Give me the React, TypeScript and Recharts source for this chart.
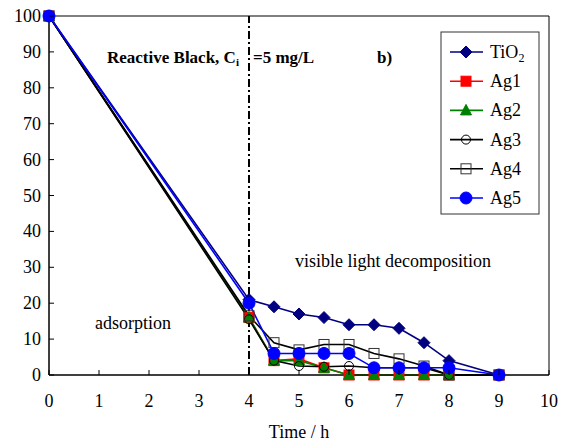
import { LineChart, Line, XAxis, YAxis, ReferenceLine, ReferenceArea } from "recharts";

const times = [0, 4, 4.5, 5, 5.5, 6, 6.5, 7, 7.5, 8, 9];
const tio2 = [100, 21, 19, 17, 16, 14, 14, 13, 9, 4, 0];
const ag1 = [100, 16, 4, 4.5, 2, 0, 0, 0, 0, 0, 0];
const ag2 = [100, 16, 4, 4, 2, 0, 0, 0, 0, 0, 0];
const ag3 = [100, 15.5, 4, 2.5, 2.3, 2.5, 2, 2, 2, 0, 0];
const ag4 = [100, 16.5, 9, 7, 8.5, 8.5, 6, 4.5, 2.5, 0, 0];
const ag5 = [100, 20, 6, 6, 6, 6, 2, 2, 2, 2, 0];

const xTicks = [0, 1, 2, 3, 4, 5, 6, 7, 8, 9, 10];
const yTicks = [0, 10, 20, 30, 40, 50, 60, 70, 80, 90, 100];

type Shape = "diamond" | "square" | "triangle" | "ring" | "box" | "circle";

const series: { key: string; name: string; color: string; shape: Shape }[] = [
  { key: "tio2", name: "TiO2", color: "#000080", shape: "diamond" },
  { key: "ag1", name: "Ag1", color: "#ff0000", shape: "square" },
  { key: "ag2", name: "Ag2", color: "#008000", shape: "triangle" },
  { key: "ag3", name: "Ag3", color: "#000000", shape: "ring" },
  { key: "ag4", name: "Ag4", color: "#000000", shape: "box" },
  { key: "ag5", name: "Ag5", color: "#0000ff", shape: "circle" },
];

const data = times.map((t, i) => ({
  t,
  tio2: tio2[i],
  ag1: ag1[i],
  ag2: ag2[i],
  ag3: ag3[i],
  ag4: ag4[i],
  ag5: ag5[i],
}));

const FONT = "Liberation Serif";

const marker = (shape: Shape, color: string, cx: number, cy: number, key?: string) => {
  switch (shape) {
    case "diamond":
      return <polygon key={key} points={`${cx},${cy - 6} ${cx + 6},${cy} ${cx},${cy + 6} ${cx - 6},${cy}`} fill={color} stroke={color} />;
    case "square":
      return <rect key={key} x={cx - 5} y={cy - 5} width={10} height={10} fill={color} stroke={color} />;
    case "triangle":
      return <polygon key={key} points={`${cx},${cy - 6} ${cx + 5.5},${cy + 4.5} ${cx - 5.5},${cy + 4.5}`} fill={color} stroke={color} />;
    case "ring":
      return <circle key={key} cx={cx} cy={cy} r={4.5} fill="none" stroke={color} strokeWidth={1} />;
    case "box":
      return <rect key={key} x={cx - 5} y={cy - 5} width={10} height={10} fill="none" stroke="#333" strokeWidth={1} />;
    default:
      return <circle key={key} cx={cx} cy={cy} r={6} fill={color} stroke={color} />;
  }
};

const dotFor = (shape: Shape, color: string) => (props: any) => {
  const { cx, cy, index } = props;
  if (cx == null || cy == null) return <g key={`e-${index}`} />;
  return marker(shape, color, cx, cy, `${shape}-${index}`);
};

const XTick = (props: any) => {
  const { x, y, payload } = props;
  return (
    <g>
      <line x1={x} y1={y} x2={x} y2={y - 5} stroke="#000" />
      <text x={x} y={y + 32} textAnchor="middle" fontFamily={FONT} fontSize={18} fill="#000">
        {payload.value}
      </text>
    </g>
  );
};

const YTick = (props: any) => {
  const { x, y, payload } = props;
  return (
    <g>
      <line x1={x} y1={y} x2={x + 5} y2={y} stroke="#000" />
      <text x={x - 8} y={y + 6} textAnchor="end" fontFamily={FONT} fontSize={18} fill="#000">
        {payload.value}
      </text>
    </g>
  );
};

export default function App() {
  return (
    <div style={{ position: "absolute", left: 0, top: 0, width: 565, height: 441, background: "#fff", fontFamily: FONT }}>
      <LineChart width={565} height={441} data={data} margin={{ top: 16, right: 16, bottom: 0, left: 0 }}>
        <XAxis
          dataKey="t"
          type="number"
          domain={[0, 10]}
          ticks={xTicks}
          tickSize={0}
          tickMargin={0}
          tick={<XTick />}
          height={66}
          axisLine={{ stroke: "#000" }}
          label={{ value: "Time / h", position: "insideBottom", offset: 3, fontFamily: FONT, fontSize: 18, fill: "#000" }}
        />
        <YAxis
          type="number"
          domain={[0, 100]}
          ticks={yTicks}
          tickSize={0}
          tickMargin={0}
          tick={<YTick />}
          width={49}
          axisLine={{ stroke: "#000" }}
        />
        <ReferenceArea x1={0} x2={10} y1={0} y2={100} fill="none" stroke="#000" strokeWidth={1} />
        <ReferenceLine x={4} stroke="#000" strokeWidth={2} strokeDasharray="8 3 2 3" />
        {series.map((s) => (
          <Line
            key={s.key}
            dataKey={s.key}
            name={s.name}
            stroke={s.color}
            strokeWidth={1.6}
            type="linear"
            dot={dotFor(s.shape, s.color)}
            activeDot={false}
            isAnimationActive={false}
          />
        ))}
      </LineChart>
      <svg width={565} height={441} style={{ position: "absolute", left: 0, top: 0, pointerEvents: "none" }}>
        <text x={107} y={63} fontFamily={FONT} fontSize={17} fontWeight="bold" fill="#000">
          Reactive Black, C<tspan fontSize={11} dy={3}>i</tspan>
        </text>
        <text x={253} y={63} fontFamily={FONT} fontSize={17} fontWeight="bold" fill="#000">=5 mg/L</text>
        <text x={377} y={63} fontFamily={FONT} fontSize={17} fontWeight="bold" fill="#000">b)</text>
        <text x={295} y={267} fontFamily={FONT} fontSize={18} fill="#000">visible light decomposition</text>
        <text x={95} y={329} fontFamily={FONT} fontSize={18} fill="#000">adsorption</text>
        <rect x={441} y={32} width={98} height={182} fill="#fff" stroke="#333" strokeWidth={1} />
        {series.map((s, i) => {
          const cy = 52 + i * 29.2;
          return (
            <g key={s.key}>
              <line x1={450} y1={cy} x2={483} y2={cy} stroke={s.color} strokeWidth={1.6} />
              {marker(s.shape, s.color, 466, cy)}
              <text x={490} y={cy + 6} fontFamily={FONT} fontSize={18} fill="#000">
                {s.name === "TiO2" ? (
                  <>
                    TiO<tspan fontSize={12} dy={4}>2</tspan>
                  </>
                ) : (
                  s.name
                )}
              </text>
            </g>
          );
        })}
      </svg>
    </div>
  );
}
